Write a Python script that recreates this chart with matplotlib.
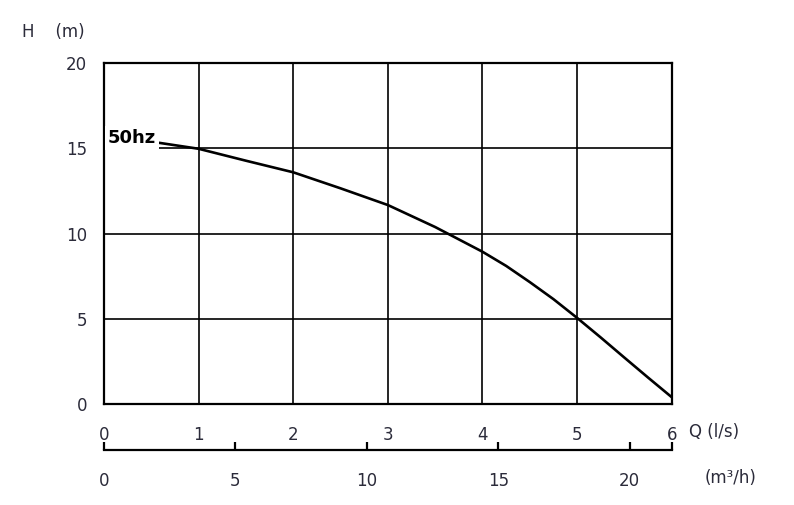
import matplotlib.pyplot as plt

# pump curve
q_ls = [0.57, 1.0, 1.5, 2.0, 2.5, 3.0, 3.5, 4.0, 4.25, 4.5, 4.75, 5.0, 5.25, 5.5, 5.75, 6.0]
head = [15.33, 14.97, 14.27, 13.59, 12.65, 11.67, 10.38, 8.93, 8.1, 7.15, 6.15, 5.05, 3.9, 2.72, 1.55, 0.4]

q_ticks = [0, 1, 2, 3, 4, 5, 6]
h_ticks = [0, 5, 10, 15, 20]
m3h_ticks = [0, 5, 10, 15, 20, 21.6]
m3h_labels = ['0', '5', '10', '15', '20', '']

txt = '#2b2b3a'
plt.rcParams['font.family'] = ['DejaVu Sans']

fig = plt.figure(figsize=(7.94, 5.05), dpi=100)
ax = fig.add_axes([0.131, 0.2, 0.715, 0.6752])

ax.plot(q_ls, head, color='black', lw=1.9, zorder=3, solid_joinstyle='round')

ax.set_xlim(0, 6)
ax.set_ylim(0, 20)
ax.set_xticks(q_ticks)
ax.set_yticks(h_ticks)
ax.grid(True, color='black', lw=1.2)
for s in ax.spines.values():
    s.set_linewidth(1.6)
ax.tick_params(axis='both', length=0, labelsize=12, labelcolor=txt)
ax.tick_params(axis='x', pad=16)
ax.tick_params(axis='y', pad=12)

ax.text(0.04, 15.6, '50hz', fontsize=13, fontweight='bold', va='center', ha='left',
        bbox=dict(facecolor='white', edgecolor='none', pad=2.0), zorder=4)

# second flow axis in m3/h
sec = ax.secondary_xaxis(-0.135, functions=(lambda q: q * 3.6, lambda m: m / 3.6))
sec.set_xticks(m3h_ticks)
sec.set_xticklabels(m3h_labels)
sec.spines['bottom'].set_linewidth(1.6)
sec.tick_params(direction='in', length=6, width=1.6, labelsize=12, labelcolor=txt, pad=16)

fig.text(0.868, 0.145, 'Q (l/s)', fontsize=12, color=txt, va='center')
fig.text(0.888, 0.054, '(m³/h)', fontsize=12, color=txt, va='center')
fig.text(0.028, 0.936, 'H    (m)', fontsize=12, color=txt, va='center')

fig.savefig('out.png', dpi=100)
